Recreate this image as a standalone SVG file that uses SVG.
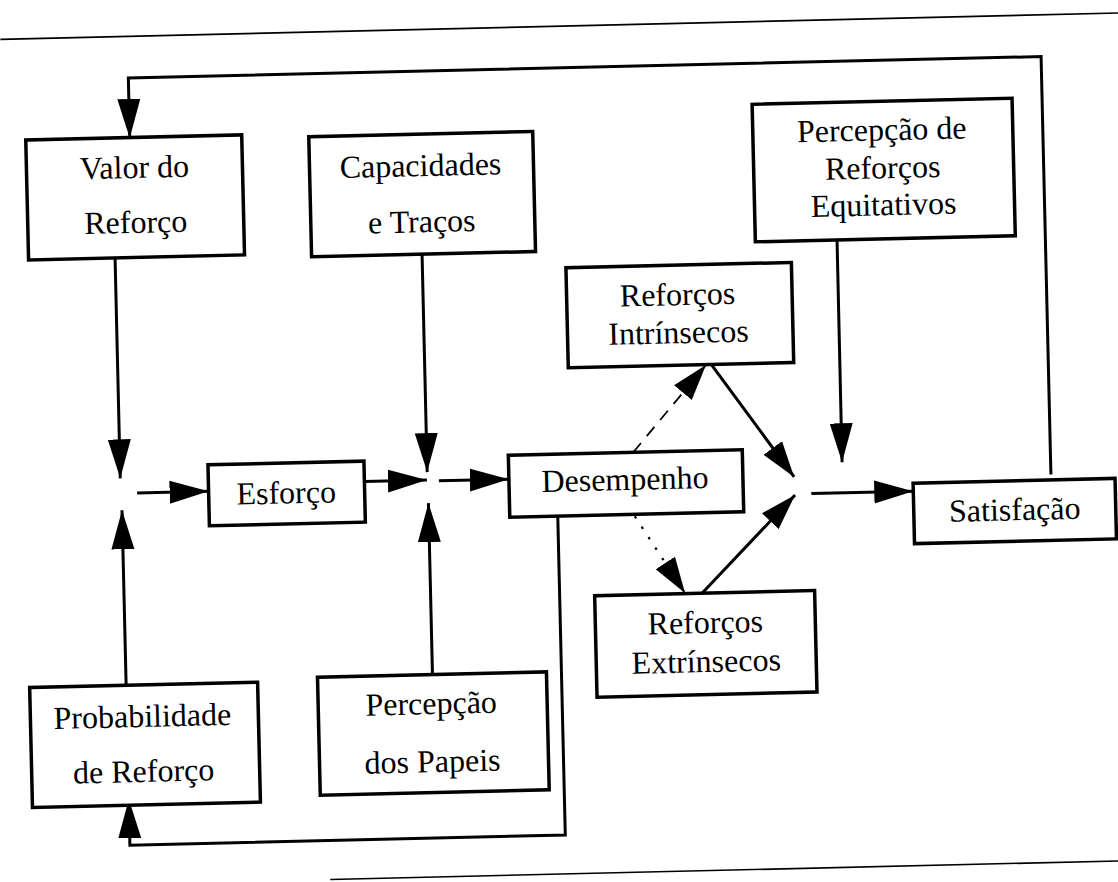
<svg xmlns="http://www.w3.org/2000/svg" width="1118" height="882" viewBox="0 0 1118 882">
  <style>
    .box { fill: #ffffff; stroke: #000000; stroke-width: 3.5; }
    .lbl { font-family: "Liberation Serif", "Times New Roman", "DejaVu Serif", serif; font-size: 32px; fill: #000000; text-anchor: middle; }
    .rule { stroke: #000000; stroke-width: 1.6; fill: none; }
    .wire { stroke: #000000; stroke-width: 3; fill: none; stroke-linejoin: miter; }
    .arr { marker-end: url(#head); }
    .arr-d { marker-end: url(#head-diag); }
    .dash { stroke-dasharray: 12 9; stroke-width: 1.8; }
    .dot { stroke-dasharray: 2.5 10; stroke-width: 2.2; }
  </style>
  <defs>
    <marker id="head" markerUnits="userSpaceOnUse" markerWidth="40" markerHeight="24" refX="39" refY="12" orient="auto">
      <path d="M0,0.5 L39,12 L0,23.5 z" fill="#000000"/>
    </marker>
    <marker id="head-diag" markerUnits="userSpaceOnUse" markerWidth="38" markerHeight="24" refX="36" refY="12" orient="auto">
      <path d="M0,0.5 L36,12 L0,23.5 z" fill="#000000"/>
    </marker>
  </defs>
  <rect width="1118" height="882" fill="#ffffff"/>

  <!-- the whole page sits slightly tilted -->
  <g transform="rotate(-1.35 559 441)">
    <!-- page rules -->
    <g id="rules">
      <line class="rule" x1="10" y1="26.3" x2="1140" y2="26.3"/>
      <line class="rule" x1="320" y1="874" x2="1140" y2="874"/>
    </g>

    <!-- connectors -->
    <g id="connectors">
      <!-- Satisfação back to Valor do Reforço -->
      <polyline class="wire arr" points="1050,486 1050,68 137,68 137,128"/>
      <!-- Valor and Probabilidade meet before Esforço -->
      <line class="wire arr" x1="119.5" y1="247.5" x2="119.5" y2="468"/>
      <line class="wire arr" x1="120.5" y1="675" x2="120.5" y2="500"/>
      <line class="wire arr" x1="136" y1="483" x2="207.5" y2="483"/>
      <!-- Esforço, Capacidades and Percepção meet before Desempenho -->
      <line class="wire arr" x1="426.5" y1="251" x2="426.5" y2="469"/>
      <line class="wire arr" x1="427" y1="671.5" x2="427" y2="500"/>
      <line class="wire arr" x1="363.5" y1="477" x2="426" y2="477"/>
      <line class="wire arr" x1="438" y1="478" x2="508" y2="478"/>
      <!-- Desempenho to the two kinds of reinforcement -->
      <line class="wire dash arr-d" x1="633" y1="454" x2="707.7" y2="368.5"/>
      <line class="wire dot arr-d" x1="633" y1="518" x2="681.4" y2="596"/>
      <!-- reinforcements and equity perception meet before Satisfação -->
      <line class="wire arr-d" x1="713.7" y1="369" x2="793.2" y2="482.5"/>
      <line class="wire arr-d" x1="698.4" y1="596.5" x2="793.7" y2="500.6"/>
      <line class="wire arr" x1="841.7" y1="246.5" x2="841.5" y2="469"/>
      <line class="wire arr" x1="810" y1="499.5" x2="912" y2="499.5"/>
      <!-- Desempenho back to Probabilidade de Reforço -->
      <polyline class="wire arr" points="556,516 556,835 120.5,835 120.5,789"/>
    </g>

    <g id="valor-reforco">
      <rect class="box" x="33" y="127.5" width="216" height="120"/>
      <text class="lbl" x="141" y="168">Valor do</text>
      <text class="lbl" x="141" y="223">Reforço</text>
    </g>

    <g id="capacidades-tracos">
      <rect class="box" x="316" y="131" width="224" height="120"/>
      <text class="lbl" x="427" y="173">Capacidades</text>
      <text class="lbl" x="427" y="229">e Traços</text>
    </g>

    <g id="esforco">
      <rect class="box" x="207.5" y="456.5" width="156" height="61"/>
      <text class="lbl" x="285" y="497">Esforço</text>
    </g>

    <g id="desempenho">
      <rect class="box" x="508" y="454" width="234" height="62"/>
      <text class="lbl" x="624" y="491.5">Desempenho</text>
    </g>

    <g id="probabilidade-reforco">
      <rect class="box" x="24" y="675" width="228" height="120"/>
      <text class="lbl" x="136" y="717">Probabilidade</text>
      <text class="lbl" x="136" y="772">de Reforço</text>
    </g>

    <g id="percepcao-papeis">
      <rect class="box" x="312" y="671.5" width="229" height="118"/>
      <text class="lbl" x="425" y="711">Percepção</text>
      <text class="lbl" x="425" y="769">dos Papeis</text>
    </g>

    <g id="percepcao-equitativos">
      <rect class="box" x="760" y="109" width="260" height="137.5"/>
      <text class="lbl" x="889" y="148">Percepção de</text>
      <text class="lbl" x="889" y="186">Reforços</text>
      <text class="lbl" x="889" y="223">Equitativos</text>
    </g>

    <g id="reforcos-intrinsecos">
      <rect class="box" x="570" y="268" width="225.5" height="100"/>
      <text class="lbl" x="681" y="308">Reforços</text>
      <text class="lbl" x="681" y="346">Intrínsecos</text>
    </g>

    <g id="reforcos-extrinsecos">
      <rect class="box" x="591" y="596.5" width="220" height="101.5"/>
      <text class="lbl" x="701" y="636.5">Reforços</text>
      <text class="lbl" x="701" y="675.5">Extrínsecos</text>
    </g>

    <g id="satisfacao">
      <rect class="box" x="912" y="491.5" width="202" height="60.5"/>
      <text class="lbl" x="1013" y="531">Satisfação</text>
    </g>
  </g>
</svg>
